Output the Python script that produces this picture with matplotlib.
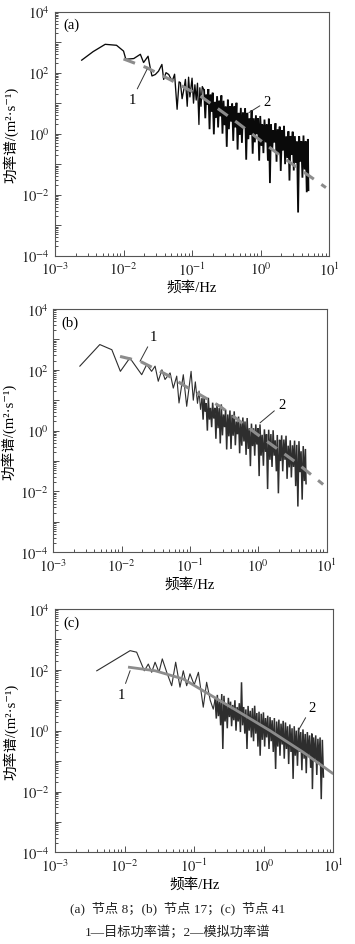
import numpy as np
import matplotlib
matplotlib.use('Agg')
import matplotlib.pyplot as plt
import matplotlib.ticker as ticker

plt.rcParams['font.family'] = ['Liberation Serif', 'Noto Sans CJK SC', 'DejaVu Serif']
plt.rcParams['mathtext.fontset'] = 'stix'

# ---- data (Hz, m^2/s) ----
# low-frequency part of the simulated spectra
freq_low_a = [0.00245, 0.0036, 0.0054, 0.0079, 0.0100, 0.0108, 0.0141, 0.0176, 0.0196, 0.0228,
              0.0245, 0.026, 0.0291, 0.0324, 0.0363, 0.0385, 0.0417, 0.0457, 0.0513, 0.0556,
              0.0605, 0.0646, 0.0676, 0.0716, 0.0759, 0.080, 0.085, 0.089, 0.093, 0.100,
              0.105, 0.110, 0.115, 0.120, 0.126, 0.130, 0.135, 0.141]
psd_low_a = [257, 490, 850, 790, 510, 275, 290, 400, 215, 345,
             145, 78, 87, 112, 186, 60, 100, 87, 52, 89,
             6.3, 50, 47, 14, 28, 60, 7.9, 71, 16, 66,
             10, 40, 12.6, 45, 2.0, 32, 7.9, 35]

freq_low_b = [0.00245, 0.0048, 0.0072, 0.0096, 0.0132, 0.0197, 0.0233, 0.0275, 0.0309, 0.0344,
              0.0389, 0.0432, 0.0513, 0.0571, 0.0641, 0.0692, 0.080, 0.0897, 0.104, 0.112,
              0.120, 0.129, 0.136, 0.143]
psd_low_b = [132, 676, 457, 89, 245, 69, 148, 89, 132, 42,
             100, 48, 79, 25, 62, 8.1, 69, 6.3, 89, 10,
             40, 7.9, 20, 5]

freq_low_c = [0.00398, 0.0120, 0.0149, 0.0192, 0.0219, 0.0245, 0.0274, 0.0312, 0.0348, 0.0403,
              0.0475, 0.0542, 0.0625, 0.0697, 0.078, 0.087, 0.100, 0.115, 0.135, 0.151,
              0.170, 0.188]
psd_low_c = [93, 427, 380, 93, 155, 83, 178, 83, 229, 83,
             30, 178, 27, 93, 30, 74, 32, 83, 5.9, 39,
             10, 5.1]

# high-frequency (dense) part, common frequency grid
freq_band = [0.150, 0.156, 0.161, 0.167, 0.173, 0.180, 0.186, 0.193, 0.200, 0.208,
             0.215, 0.223, 0.232, 0.240, 0.249, 0.258, 0.268, 0.278, 0.288, 0.299,
             0.310, 0.321, 0.333, 0.345, 0.358, 0.371, 0.385, 0.399, 0.414, 0.429,
             0.445, 0.462, 0.479, 0.496, 0.515, 0.534, 0.553, 0.574, 0.595, 0.617,
             0.640, 0.663, 0.688, 0.713, 0.740, 0.767, 0.795, 0.825, 0.855, 0.887,
             0.920, 0.954, 0.989, 1.03, 1.06, 1.10, 1.14, 1.19, 1.23, 1.28,
             1.32, 1.37, 1.42, 1.48, 1.53, 1.59, 1.65, 1.71, 1.77, 1.84,
             1.90, 1.97, 2.05, 2.12, 2.20, 2.28, 2.37, 2.46, 2.55, 2.64,
             2.74, 2.84, 2.94, 3.05, 3.17, 3.28, 3.40, 3.53, 3.66, 3.80,
             3.94, 4.08, 4.23, 4.39, 4.55, 4.72, 4.90, 5.00]
psd_band_a = [27, 3.2, 19, 9, 29, 1.4, 19, 5.2, 22, 0.95,
              11, 3.3, 17, 1.6, 12, 3.7, 18, 1.0, 12, 1.9,
              7.7, 0.37, 13, 1.4, 7.9, 2.5, 9.7, 0.58, 7.8, 1.6,
              10.3, 0.3, 4.8, 0.91, 7.0, 0.5, 4.9, 1.6, 6.7, 0.14,
              4.8, 0.66, 3.2, 0.92, 5.9, 0.22, 3.2, 0.52, 4.0, 0.96,
              3.2, 0.13, 3.8, 0.41, 2.0, 0.23, 2.9, 0.52, 2.0, 0.13,
              3.1, 0.024, 2.0, 0.28, 1.3, 0.51, 2.2, 0.12, 1.4, 0.22,
              1.7, 0.06, 1.3, 0.28, 1.8, 0.1, 0.82, 0.16, 1.2, 0.029,
              0.84, 0.2, 1.16, 0.062, 0.83, 0.11, 0.55, 0.0026, 0.82, 0.12,
              0.56, 0.036, 0.87, 0.067, 0.56, 0.012, 0.67, 0.014]
psd_band_b = [11, 2.3, 13, 4.2, 8.0, 1.0, 12, 2.3, 5.6, 1.3,
              8.3, 2.5, 5.6, 0.54, 7.7, 1.2, 5.5, 0.38, 7.3, 0.7,
              3.4, 1.3, 4.9, 0.24, 3.4, 0.65, 4.6, 0.25, 3.3, 0.68,
              4.3, 0.33, 2.0, 0.76, 2.9, 0.18, 2.0, 0.32, 2.7, 0.44,
              2.0, 0.16, 2.6, 0.25, 1.2, 0.068, 1.7, 0.31, 1.2, 0.15,
              1.6, 0.35, 1.2, 0.032, 1.6, 0.15, 0.73, 0.07, 1.1, 0.2,
              0.76, 0.012, 1.07, 0.11, 0.77, 0.064, 1.03, 0.15, 0.48, 0.046,
              0.72, 0.0087, 0.5, 0.1, 0.7, 0.046, 0.51, 0.11, 0.68, 0.026,
              0.32, 0.062, 0.48, 0.029, 0.33, 0.064, 0.47, 0.015, 0.34, 0.0032,
              0.45, 0.043, 0.21, 0.0054, 0.31, 0.022, 0.25, 0.018]
# (c) uses the grid from 0.2 Hz and runs on to ~7 Hz
psd_band_c = [11, 2.5, 15, 3.0, 9, 1.5, 16, 0.25, 14, 2.0,
              8, 1.2, 12, 2.8, 9, 1.4, 7, 2.2, 10, 1.0,
              6, 2.0, 8, 0.9, 39, 1.5, 6, 0.8, 5, 0.25,
              6.5, 1.0, 4.5, 0.6, 5.5, 0.45, 6.6, 0.8, 3.8, 0.3,
              4.2, 0.15, 3.6, 0.5, 4.0, 0.3, 2.6, 0.6, 3.1, 0.25,
              2.8, 0.45, 2.2, 0.2, 2.6, 0.055, 2.0, 0.3, 2.3, 0.15,
              1.7, 0.35, 2.1, 0.12, 1.86, 0.25, 1.4, 0.08, 1.6, 0.2,
              1.2, 0.026, 1.4, 0.15, 1.0, 0.07, 1.25, 0.2, 0.9, 0.05,
              1.1, 0.12, 0.78, 0.04, 0.9, 0.15, 0.7, 0.06, 0.8, 0.012]
freq_tail_c = [5.19, 5.38, 5.58, 5.78, 6.0, 6.2, 6.45, 6.7, 6.95, 7.2]
psd_tail_c = [0.6, 0.1, 0.7, 0.035, 0.54, 0.09, 0.6, 0.0056, 0.5, 0.03]

# target spectra (curve 1)
freq_target_a = [0.0100, 0.0219, 0.050, 0.133, 0.457, 1.97, 9.0]
psd_target_a = [282, 145, 56, 17, 2.3, 0.186, 0.017]
freq_target_b = [0.0095, 0.0186, 0.0457, 0.0851, 0.275, 1.06, 3.66, 8.9]
psd_target_b = [275, 191, 69, 29, 6.3, 0.65, 0.087, 0.017]
freq_target_c = [0.0112, 0.0275, 0.0697, 0.407, 1.23, 3.69, 10.0]
psd_target_c = [123, 93, 50, 4.6, 1.0, 0.195, 0.038]

freq_low = {'a': freq_low_a, 'b': freq_low_b, 'c': freq_low_c}
psd_low = {'a': psd_low_a, 'b': psd_low_b, 'c': psd_low_c}
freq_hi = {'a': freq_band, 'b': freq_band, 'c': freq_band[8:] + freq_tail_c}
psd_hi = {'a': psd_band_a, 'b': psd_band_b, 'c': psd_band_c + psd_tail_c}
freq_target = {'a': freq_target_a, 'b': freq_target_b, 'c': freq_target_c}
psd_target = {'a': psd_target_a, 'b': psd_target_b, 'c': psd_target_c}

# label "1" / "2" placement: (text xy, tip xy)
notes = {
    'a': [((0.0133, 13.3), (0.0220, 128)), ((1.26, 11.7), (0.676, 4.9))],
    'b': [((0.0291, 1260), (0.0186, 190)), ((2.21, 7.2), (1.06, 1.8))],
    'c': [((0.0091, 16), (0.012, 94)), ((4.87, 5.9), (3.13, 1.0))],
}

boxes = {'a': [0.155, 0.7284, 0.772, 0.2582],
         'b': [0.150, 0.4145, 0.770, 0.2575],
         'c': [0.155, 0.0970, 0.784, 0.2575]}
sim_color = {'a': '#0a0a0a', 'b': '#2e2e2e', 'c': '#2e2e2e'}
low_lw = {'a': 0.95, 'b': 0.8, 'c': 0.8}
band_lw = {'a': 1.3, 'b': 1.1, 'c': 1.1}


def ylab(v, pos):
    e = int(round(np.log10(v)))
    return r'$10^{%d}$' % e if e % 2 == 0 else ''


def xlab(v, pos):
    return r'$10^{%d}$' % int(round(np.log10(v)))


fig = plt.figure(figsize=(3.55, 9.45), dpi=100)

for tag in ['a', 'b', 'c']:
    ax = fig.add_axes(boxes[tag])
    # simulated spectrum: sparse low-frequency run, then the dense band
    ax.plot(freq_low[tag] + freq_hi[tag][:1], psd_low[tag] + psd_hi[tag][:1],
            color=sim_color[tag], lw=low_lw[tag], zorder=2)
    ax.plot(freq_hi[tag], psd_hi[tag], color=sim_color[tag], lw=band_lw[tag],
            solid_joinstyle='miter', zorder=2)
    if tag == 'c':
        ax.plot(freq_target[tag], psd_target[tag], color='#8c8c8c', lw=2.0,
                solid_capstyle='butt', zorder=3)
    else:
        ax.plot(freq_target[tag], psd_target[tag], color='#8c8c8c', lw=2.2,
                dashes=(4, 3), zorder=3)

    for (txt_xy, tip_xy), s in zip(notes[tag], ['1', '2']):
        ax.annotate(s, xy=tip_xy, xytext=txt_xy, ha='center', va='center', fontsize=10.5,
                    arrowprops=dict(arrowstyle='-', color='#333333', lw=0.7,
                                    shrinkA=1, shrinkB=0))

    ax.set_xscale('log')
    ax.set_yscale('log')
    ax.set_xlim(1e-3, 1e1)
    ax.set_ylim(1e-4, 1e4)
    ax.xaxis.set_major_locator(ticker.FixedLocator([1e-3, 1e-2, 1e-1, 1e0, 1e1]))
    ax.xaxis.set_major_formatter(ticker.FuncFormatter(xlab))
    ax.yaxis.set_major_locator(ticker.FixedLocator([10.0 ** k for k in range(-4, 5)]))
    ax.yaxis.set_major_formatter(ticker.FuncFormatter(ylab))
    ax.xaxis.set_minor_locator(ticker.LogLocator(base=10, subs=np.arange(2, 10), numticks=20))
    ax.yaxis.set_minor_locator(ticker.LogLocator(base=10, subs=np.arange(2, 10), numticks=20))
    ax.xaxis.set_minor_formatter(ticker.NullFormatter())
    ax.yaxis.set_minor_formatter(ticker.NullFormatter())
    ax.tick_params(which='both', direction='in', top=False, right=False,
                   colors='#333333', labelcolor='#222222', width=0.6)
    ax.tick_params(which='major', length=4, labelsize=10.5)
    ax.tick_params(which='minor', length=2)
    for sp in ax.spines.values():
        sp.set_color('#555555')
        sp.set_linewidth(0.8)

    ax.set_xlabel('频率/Hz', fontsize=10.5, labelpad=2)
    ax.set_ylabel('功率谱/(m²·s⁻¹)', fontsize=10.5, labelpad=2)
    ax.text(0.03, 0.975, '(%s)' % tag, transform=ax.transAxes, ha='left', va='top',
            fontsize=10.5)

fig.text(0.5, 1 - 908 / 945, '(a)  节点 8；(b)  节点 17；(c)  节点 41',
         ha='center', va='center', fontsize=9.5, color='#222222')
fig.text(0.5, 1 - 932 / 945, '1—目标功率谱；2—模拟功率谱',
         ha='center', va='center', fontsize=9.5, color='#222222')

fig.savefig('out.png', dpi=100)
